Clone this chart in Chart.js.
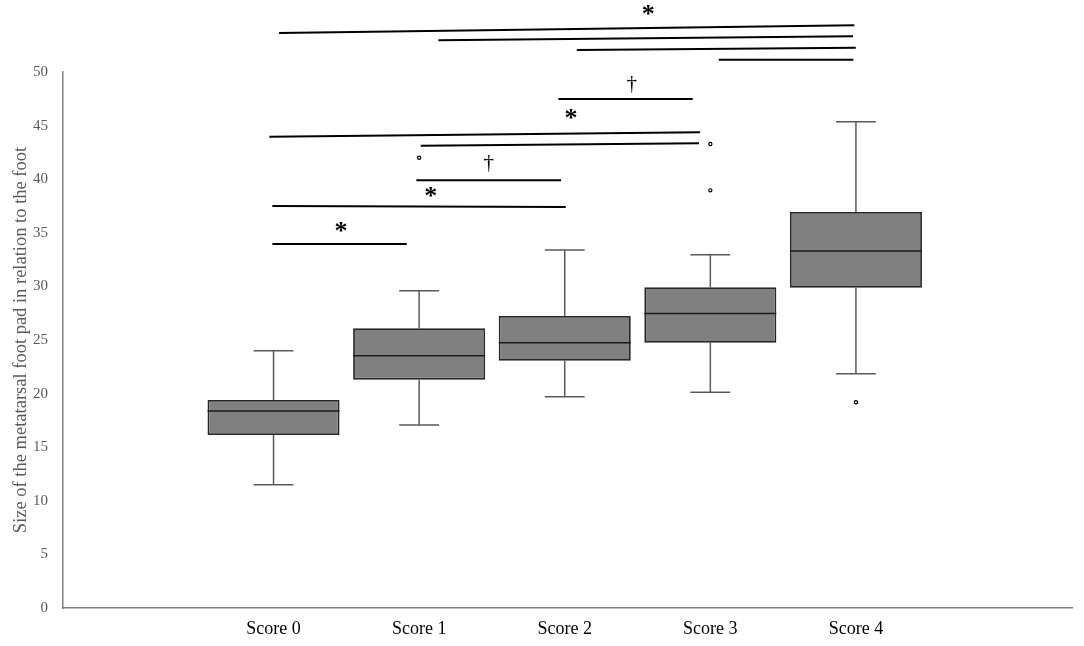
<!DOCTYPE html>
<html>
<head>
<meta charset="utf-8">
<script src="https://cdn.jsdelivr.net/npm/chart.js@4.4.0/dist/chart.umd.min.js"></script>
<style>
  html, body { margin: 0; padding: 0; background: #fff; }
  canvas { display: block; }
</style>
</head>
<body>
<canvas id="boxChart" width="1084" height="646"></canvas>
<script>
// box plot values per score group
const scoreLabels = ['Score 0', 'Score 1', 'Score 2', 'Score 3', 'Score 4'];
const whiskerLow = [11.5, 17.07, 19.71, 20.12, 21.86];
const q1 = [16.14, 21.3, 23.07, 24.75, 29.88];
const medians = [18.38, 23.54, 24.75, 27.47, 33.3];
const q3 = [19.4, 26.09, 27.24, 29.92, 36.94];
const whiskerHigh = [24.0, 29.6, 33.4, 32.95, 45.36];

// outliers: group index + value
const outlierGroup = [1, 3, 3, 4];
const outlierValues = [42.0, 43.28, 38.96, 19.19];

// significance bars (x in group units, y in axis units)
const sigStart = [0.038, 1.132, 2.083, 3.058, 1.956, -0.029, 1.011, 0.981, -0.008, -0.008];
const sigEnd = [3.989, 3.98, 3.999, 3.982, 2.879, 2.929, 2.922, 1.975, 2.007, 0.915];
const sigStartY = [53.64, 52.96, 52.05, 51.15, 47.48, 43.97, 43.13, 39.9, 37.5, 33.96];
const sigEndY = [54.36, 53.33, 52.27, 51.15, 47.48, 44.37, 43.35, 39.9, 37.4, 33.96];

// significance symbols
const markText = ['*', '\u2020', '*', '\u2020', '*', '*'];
const markX = [2.574, 2.460, 2.043, 1.478, 1.08, 0.464];
const markY = [55.78, 48.79, 46.08, 41.48, 38.83, 35.57];

const yTitle = 'Size of the metatarsal foot pad in relation to the foot';
const capHalf = 0.137;
const boxHalf = 0.453;

const datasets = [];

// boxes q1..q3
datasets.push({
    type: 'bar',
    data: scoreLabels.map((_, i) => ({x: i, y: [q1[i], q3[i]]})),
    backgroundColor: '#808080',
    borderColor: '#262626',
    borderWidth: 1.8,
    borderSkipped: false,
    grouped: false,
    barPercentage: 0.907,
    categoryPercentage: 1,
    order: 3
});

function segment(points, color, width, clip, order) {
    return {
        type: 'line',
        data: points,
        borderColor: color,
        borderWidth: width,
        pointRadius: 0,
        tension: 0,
        fill: false,
        clip: clip,
        order: order
    };
}

// whiskers, caps and medians
scoreLabels.forEach((_, i) => {
    datasets.push(segment([{x: i, y: q3[i]}, {x: i, y: whiskerHigh[i]}], '#5a5a5a', 1.5, true, 4));
    datasets.push(segment([{x: i, y: q1[i]}, {x: i, y: whiskerLow[i]}], '#5a5a5a', 1.5, true, 4));
    datasets.push(segment([{x: i - capHalf, y: whiskerHigh[i]}, {x: i + capHalf, y: whiskerHigh[i]}], '#5a5a5a', 1.5, true, 4));
    datasets.push(segment([{x: i - capHalf, y: whiskerLow[i]}, {x: i + capHalf, y: whiskerLow[i]}], '#5a5a5a', 1.5, true, 4));
    datasets.push(segment([{x: i - boxHalf, y: medians[i]}, {x: i + boxHalf, y: medians[i]}], '#1a1a1a', 1.5, true, 2));
});

// significance lines, drawn above the plot area too
sigStart.forEach((s, i) => {
    datasets.push(segment([{x: s, y: sigStartY[i]}, {x: sigEnd[i], y: sigEndY[i]}], '#000', 2, false, 1));
});

// outliers
datasets.push({
    type: 'scatter',
    data: outlierGroup.map((g, i) => ({x: g, y: outlierValues[i]})),
    pointStyle: 'circle',
    pointRadius: 1.6,
    pointBorderWidth: 1.2,
    pointBackgroundColor: '#fff',
    pointBorderColor: '#000',
    order: 0
});

const marksPlugin = {
    id: 'marks',
    afterDatasetsDraw(chart) {
        const {ctx, scales: {x, y}} = chart;
        ctx.save();
        ctx.fillStyle = '#000';
        ctx.textAlign = 'center';
        ctx.textBaseline = 'alphabetic';
        markText.forEach((t, i) => {
            ctx.font = t === '*' ? 'bold 26px "Liberation Serif"' : '21px "Liberation Serif"';
            const m = ctx.measureText(t);
            const px = x.getPixelForValue(markX[i]);
            const py = y.getPixelForValue(markY[i]);
            ctx.fillText(t, px, py + (m.actualBoundingBoxAscent - m.actualBoundingBoxDescent) / 2);
        });
        ctx.restore();
    }
};

new Chart(document.getElementById('boxChart').getContext('2d'), {
    type: 'bar',
    data: {datasets: datasets},
    plugins: [marksPlugin],
    options: {
        responsive: false,
        animation: false,
        layout: {padding: {top: 72, right: 12, left: 0, bottom: 0}},
        plugins: {
            legend: {display: false},
            tooltip: {enabled: false}
        },
        scales: {
            x: {
                type: 'linear',
                min: -1.446,
                max: 5.484,
                offset: false,
                grid: {display: false},
                border: {display: true, color: '#808080', width: 1.5},
                afterBuildTicks: (scale) => {
                    scale.ticks = scoreLabels.map((_, i) => ({value: i}));
                },
                afterFit: (scale) => { scale.height = 38; },
                ticks: {
                    autoSkip: false,
                    maxRotation: 0,
                    padding: 2,
                    color: '#000',
                    font: {family: '"Liberation Serif"', size: 18},
                    callback: (v) => scoreLabels[v] || ''
                }
            },
            y: {
                min: 0,
                max: 50,
                grid: {display: false},
                border: {display: true, color: '#808080', width: 1.5},
                afterFit: (scale) => { scale.width = 63; },
                ticks: {
                    stepSize: 5,
                    padding: 7,
                    color: '#595959',
                    font: {family: '"Liberation Serif"', size: 15}
                },
                title: {
                    display: true,
                    text: yTitle,
                    color: '#595959',
                    padding: {top: 10, bottom: 0},
                    font: {family: '"Liberation Serif"', size: 18.5}
                }
            }
        }
    }
});
</script>
</body>
</html>
